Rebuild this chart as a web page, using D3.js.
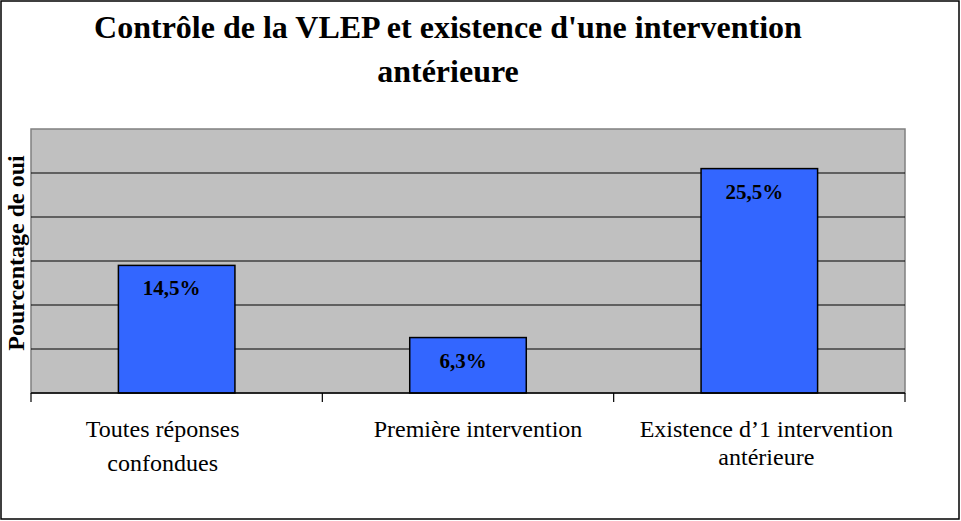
<!DOCTYPE html>
<html>
<head>
<meta charset="utf-8">
<script src="https://cdn.jsdelivr.net/npm/d3@7"></script>
<style>
  body { margin: 0; background: #fff; }
  svg { display: block; font-family: "Liberation Serif", "Times New Roman", serif; }
</style>
</head>
<body>
<svg id="chart" width="961" height="521"></svg>
<script>
const titleLines = ["Contrôle de la VLEP et existence d'une intervention", "antérieure"];
const yTitle = "Pourcentage de oui";
const categories = ["Toutes réponses confondues", "Première intervention", "Existence d’1 intervention antérieure"];
const categoryLines = [["Toutes réponses", "confondues"], ["Première intervention"], ["Existence d’1 intervention", "antérieure"]];
const values = [14.5, 6.3, 25.5];
const valueLabels = ["14,5%", "6,3%", "25,5%"];
const yTicks = [0, 5, 10, 15, 20, 25, 30];

// small layout nudges for the category labels (as placed in the original)
const labelDx = [-14, 10, 7];
const labelGap = [34, 30, 28];

const svg = d3.select("#chart");

// outer frame
svg.append("rect")
    .attr("x", 1).attr("y", 1)
    .attr("width", 958).attr("height", 518)
    .attr("fill", "#fff")
    .attr("stroke", "#000")
    .attr("stroke-width", 1.5);

const plot = { left: 31, right: 905, top: 129, bottom: 393 };

const x = d3.scaleBand()
    .domain(categories)
    .range([plot.left, plot.right])
    .padding(0);

const y = d3.scaleLinear()
    .domain([0, 30])
    .range([plot.bottom, plot.top]);

// plot background
svg.append("rect")
    .attr("x", plot.left)
    .attr("y", plot.top)
    .attr("width", plot.right - plot.left)
    .attr("height", plot.bottom - plot.top)
    .attr("fill", "#c0c0c0")
    .attr("stroke", "#808080")
    .attr("stroke-width", 1.5);

// gridlines
svg.append("g")
    .selectAll("line")
    .data(yTicks.filter((t) => t > 0 && t < 30))
    .join("line")
    .attr("x1", plot.left)
    .attr("x2", plot.right)
    .attr("y1", (d) => y(d))
    .attr("y2", (d) => y(d))
    .attr("stroke", "#000")
    .attr("stroke-width", 1.2);

// bars
const barW = x.bandwidth() * 0.4;
svg.append("g")
    .selectAll("rect")
    .data(values)
    .join("rect")
    .attr("x", (d, i) => x(categories[i]) + (x.bandwidth() - barW) / 2)
    .attr("y", (d) => y(d))
    .attr("width", barW)
    .attr("height", (d) => y(0) - y(d))
    .attr("fill", "#3366ff")
    .attr("stroke", "#000")
    .attr("stroke-width", 1.5);

// value labels
svg.append("g")
    .selectAll("text")
    .data(values)
    .join("text")
    .attr("x", (d, i) => x(categories[i]) + x.bandwidth() / 2 - 5)
    .attr("y", (d) => y(d) + 30)
    .attr("text-anchor", "middle")
    .attr("font-size", 21)
    .attr("font-weight", "bold")
    .text((d, i) => valueLabels[i]);

// x axis line + ticks at band edges
const edges = categories.map((c) => x(c)).concat([x(categories[categories.length - 1]) + x.bandwidth()]);
const axis = svg.append("g");
axis.append("line")
    .attr("x1", plot.left).attr("x2", plot.right)
    .attr("y1", y(0)).attr("y2", y(0))
    .attr("stroke", "#000")
    .attr("stroke-width", 1.5);
axis.selectAll("line.tick")
    .data(edges)
    .join("line")
    .attr("class", "tick")
    .attr("x1", (d) => d).attr("x2", (d) => d)
    .attr("y1", y(0)).attr("y2", y(0) + 9)
    .attr("stroke", "#000")
    .attr("stroke-width", 1.2);

// category labels
svg.append("g")
    .selectAll("text")
    .data(categories)
    .join("text")
    .attr("text-anchor", "middle")
    .attr("font-size", 24)
    .attr("fill", "#000")
    .each(function (d, i) {
        const cx = x(d) + x.bandwidth() / 2 + labelDx[i];
        d3.select(this)
            .selectAll("tspan")
            .data(categoryLines[i])
            .join("tspan")
            .attr("x", cx)
            .attr("y", (line, j) => 437 + j * labelGap[i])
            .text((line) => line);
    });

// y axis title
svg.append("text")
    .attr("transform", `translate(24, ${(plot.top + plot.bottom) / 2 - 8}) rotate(-90)`)
    .attr("text-anchor", "middle")
    .attr("font-size", 24)
    .attr("font-weight", "bold")
    .text(yTitle);

// chart title
svg.append("g")
    .selectAll("text")
    .data(titleLines)
    .join("text")
    .attr("x", 448)
    .attr("y", (d, i) => 38 + i * 44)
    .attr("text-anchor", "middle")
    .attr("font-size", 32)
    .attr("font-weight", "bold")
    .text((d) => d);
</script>
</body>
</html>
